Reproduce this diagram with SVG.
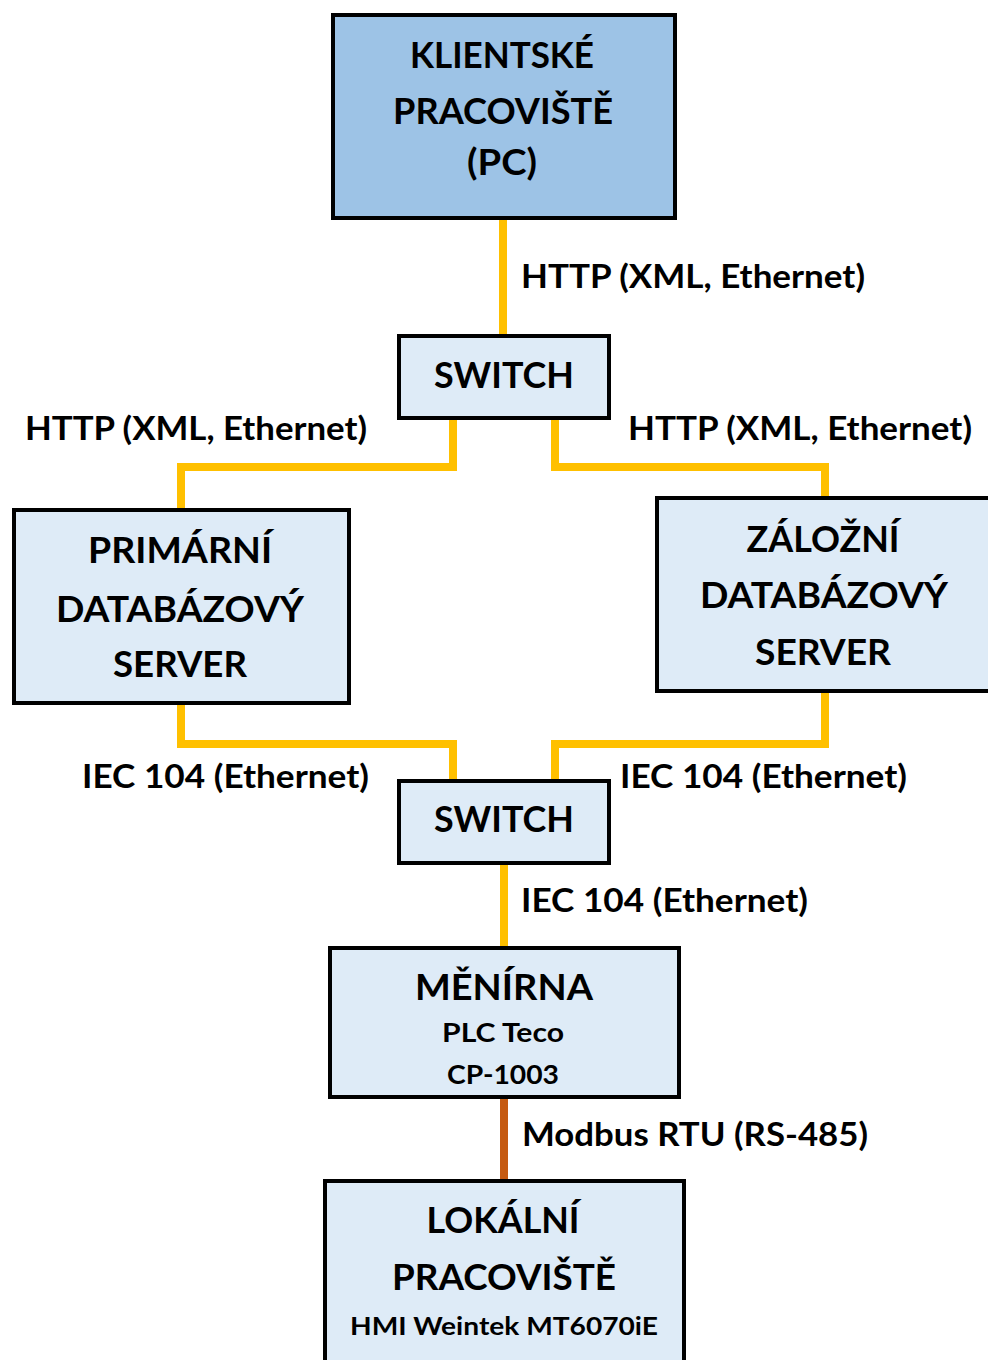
<svg xmlns="http://www.w3.org/2000/svg" width="988" height="1360" viewBox="0 0 988 1360">
<style>
  .box { fill: #DEEBF7; stroke: #000; stroke-width: 4; }
  .boxTop { fill: #9DC3E6; stroke: #000; stroke-width: 4; }
  .eth { fill: none; stroke: #FFC000; stroke-width: 8; stroke-linejoin: miter; }
  .rs { fill: none; stroke: #C55A11; stroke-width: 8; }
  text { font-family: Lato, "Open Sans", "Liberation Sans", sans-serif; font-weight: 700; fill: #000; }
  .big { font-size: 36px; text-anchor: middle; }
  .mid { font-size: 27px; text-anchor: middle; }
  .sm { font-size: 25px; text-anchor: middle; }
  .lbl { font-size: 33px; }
</style>
<rect width="988" height="1360" fill="#fff"/>
<g id="connectors">
  <path class="eth" d="M503,218 V336"/>
  <path class="eth" d="M453,418 V467 H181 V510"/>
  <path class="eth" d="M555,418 V467 H825 V498"/>
  <path class="eth" d="M181,703 V744 H453 V781"/>
  <path class="eth" d="M825,691 V744 H555 V781"/>
  <path class="eth" d="M504,863 V948"/>
  <path class="rs" d="M504,1097 V1181"/>
  <text class="lbl" x="521" y="288" textLength="344" lengthAdjust="spacingAndGlyphs">HTTP (XML, Ethernet)</text>
  <text class="lbl" x="25" y="440" textLength="342" lengthAdjust="spacingAndGlyphs">HTTP (XML, Ethernet)</text>
  <text class="lbl" x="628" y="440" textLength="344" lengthAdjust="spacingAndGlyphs">HTTP (XML, Ethernet)</text>
  <text class="lbl" x="82" y="788" textLength="287" lengthAdjust="spacingAndGlyphs">IEC 104 (Ethernet)</text>
  <text class="lbl" x="620" y="788" textLength="287" lengthAdjust="spacingAndGlyphs">IEC 104 (Ethernet)</text>
  <text class="lbl" x="521" y="912" textLength="287" lengthAdjust="spacingAndGlyphs">IEC 104 (Ethernet)</text>
  <text class="lbl" x="522" y="1146" textLength="346" lengthAdjust="spacingAndGlyphs">Modbus RTU (RS-485)</text>
</g>
<g id="klient">
  <rect class="boxTop" x="333" y="15" width="342" height="203"/>
  <text class="big" x="502" y="68" textLength="184" lengthAdjust="spacingAndGlyphs">KLIENTSKÉ</text>
  <text class="big" x="503" y="124" textLength="220" lengthAdjust="spacingAndGlyphs">PRACOVIŠTĚ</text>
  <text class="big" x="502" y="175" textLength="70" lengthAdjust="spacingAndGlyphs">(PC)</text>
</g>
<g id="switch1">
  <rect class="box" x="399" y="336" width="210" height="82"/>
  <text class="big" x="504" y="388" textLength="140" lengthAdjust="spacingAndGlyphs">SWITCH</text>
</g>
<g id="primarni">
  <rect class="box" x="14" y="510" width="335" height="193"/>
  <text class="big" x="180" y="563" textLength="184" lengthAdjust="spacingAndGlyphs">PRIMÁRNÍ</text>
  <text class="big" x="180" y="622" textLength="248" lengthAdjust="spacingAndGlyphs">DATABÁZOVÝ</text>
  <text class="big" x="180" y="677" textLength="134" lengthAdjust="spacingAndGlyphs">SERVER</text>
</g>
<g id="zalozni">
  <rect class="box" x="657" y="498" width="340" height="193"/>
  <text class="big" x="823" y="552" textLength="153" lengthAdjust="spacingAndGlyphs">ZÁLOŽNÍ</text>
  <text class="big" x="824" y="608" textLength="248" lengthAdjust="spacingAndGlyphs">DATABÁZOVÝ</text>
  <text class="big" x="823" y="665" textLength="136" lengthAdjust="spacingAndGlyphs">SERVER</text>
</g>
<g id="switch2">
  <rect class="box" x="399" y="781" width="210" height="82"/>
  <text class="big" x="504" y="832" textLength="140" lengthAdjust="spacingAndGlyphs">SWITCH</text>
</g>
<g id="menirna">
  <rect class="box" x="330" y="948" width="349" height="149"/>
  <text class="big" x="504" y="1000" textLength="178" lengthAdjust="spacingAndGlyphs">MĚNÍRNA</text>
  <text class="mid" x="503" y="1042" textLength="122" lengthAdjust="spacingAndGlyphs">PLC Teco</text>
  <text class="mid" x="503" y="1084" textLength="112" lengthAdjust="spacingAndGlyphs">CP-1003</text>
</g>
<g id="lokalni">
  <rect class="box" x="325" y="1181" width="359" height="190"/>
  <text class="big" x="503" y="1233" textLength="153" lengthAdjust="spacingAndGlyphs">LOKÁLNÍ</text>
  <text class="big" x="504" y="1290" textLength="224" lengthAdjust="spacingAndGlyphs">PRACOVIŠTĚ</text>
  <text class="sm" x="504" y="1335" textLength="308" lengthAdjust="spacingAndGlyphs">HMI Weintek MT6070iE</text>
</g>
</svg>
